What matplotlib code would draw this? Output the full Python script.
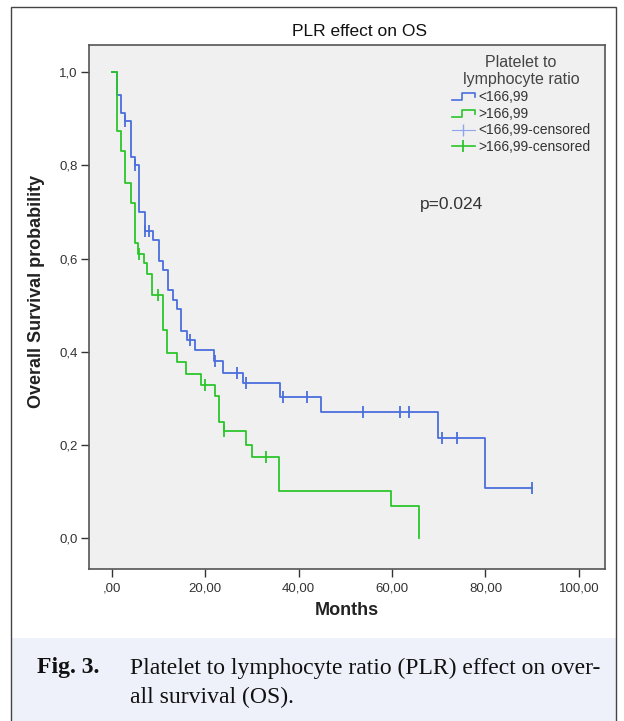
import matplotlib
matplotlib.use('Agg')
import matplotlib.pyplot as plt
from matplotlib.lines import Line2D
from matplotlib.patches import Rectangle
from matplotlib.legend_handler import HandlerBase

# Kaplan-Meier steps (months, survival after the step)
low_t = [0, 1.0, 1.9, 2.8, 4.0, 4.9, 5.9, 7.0, 8.9, 10.0, 11.0, 12.0, 13.0, 14.0,
         14.9, 16.0, 17.8, 21.8, 23.9, 28.0, 36.0, 44.8, 69.8, 80.0, 90.0]
low_s = [1.0, 0.950, 0.913, 0.896, 0.817, 0.800, 0.700, 0.658, 0.639, 0.595, 0.576,
         0.533, 0.510, 0.492, 0.444, 0.426, 0.403, 0.380, 0.355, 0.333, 0.304,
         0.270, 0.214, 0.107, 0.107]
low_cens_t = [2.9, 5.0, 7.1, 8.0, 16.8, 22.0, 26.8, 28.8, 36.7, 41.8, 53.8, 61.7,
              63.7, 70.7, 73.8, 90.0]
low_cens_s = [0.896, 0.800, 0.658, 0.658, 0.426, 0.380, 0.355, 0.333, 0.304, 0.304,
              0.270, 0.270, 0.270, 0.214, 0.214, 0.107]

high_t = [0, 1.0, 2.0, 2.9, 4.0, 4.9, 5.7, 6.8, 7.6, 8.6, 10.9, 11.9, 14.0, 15.9,
          19.0, 22.1, 23.0, 24.0, 28.8, 30.0, 35.8, 59.8, 65.8]
high_s = [1.0, 0.873, 0.830, 0.763, 0.719, 0.634, 0.609, 0.590, 0.566, 0.522, 0.447,
          0.398, 0.379, 0.353, 0.329, 0.305, 0.250, 0.229, 0.200, 0.175, 0.102,
          0.069, 0.0]
high_cens_t = [5.9, 9.9, 19.9, 24.0, 32.9]
high_cens_s = [0.609, 0.522, 0.329, 0.229, 0.175]

x_ticks = [0, 20, 40, 60, 80, 100]
x_labels = [',00', '20,00', '40,00', '60,00', '80,00', '100,00']
y_ticks = [0, 0.2, 0.4, 0.6, 0.8, 1.0]
y_labels = ['0,0', '0,2', '0,4', '0,6', '0,8', '1,0']

blue = '#4a6fdc'
green = '#2bc52b'

plt.rcParams['font.family'] = ['Liberation Sans', 'DejaVu Sans']


class StepHandler(HandlerBase):
    def create_artists(self, legend, orig_handle, xdescent, ydescent,
                       width, height, fontsize, trans):
        w, h = width, height
        xs = [-xdescent, 0.45 * w - xdescent, 0.45 * w - xdescent, w - xdescent, w - xdescent]
        ys = [0.1 * h, 0.1 * h, 0.8 * h, 0.8 * h, 0.4 * h]
        ln = Line2D(xs, ys, color=orig_handle.get_color(), lw=1.2, transform=trans)
        return [ln]


fig = plt.figure(figsize=(6.24, 7.21), dpi=100)

# frame round the figure and caption background
fig.patches.append(Rectangle((11 / 624, 0), 605 / 624, 1 - 638 / 721, transform=fig.transFigure,
                             facecolor='#eef1f9', edgecolor='none', zorder=0))
fig.patches.append(Rectangle((11 / 624, -0.01), 605 / 624, 1 - 7 / 721 + 0.01,
                             transform=fig.transFigure, facecolor='none',
                             edgecolor='#444444', lw=1.0, zorder=1))

ax = fig.add_axes([89 / 624, 1 - 569 / 721, 516 / 624, 524 / 721])
ax.set_facecolor('#f0f0f0')

l1, = ax.step(low_t, low_s, where='post', color=blue, lw=1.3)
l2, = ax.step(high_t, high_s, where='post', color=green, lw=1.3)
ax.plot(low_cens_t, low_cens_s, ls='none', marker='|', ms=8, mew=1.3, color=blue)
ax.plot(high_cens_t, high_cens_s, ls='none', marker='|', ms=8, mew=1.3, color=green)

ax.set_xlim(-4.9, 105.6)
ax.set_ylim(-0.066, 1.058)
ax.set_xticks(x_ticks)
ax.set_xticklabels(x_labels)
ax.set_yticks(y_ticks)
ax.set_yticklabels(y_labels)
ax.tick_params(direction='out', length=6, width=1, color='#333333', labelsize=9.5,
               labelcolor='#333333')
ax.tick_params(axis='x', pad=4)
ax.tick_params(axis='y', pad=2)
for s in ax.spines.values():
    s.set_color('#555555')
    s.set_linewidth(1.2)

ax.set_xlabel('Months', fontsize=13, fontweight='bold', color='#222222', labelpad=5)
ax.set_ylabel('Overall Survival probability', fontsize=13, fontweight='bold',
              color='#222222')
ax.yaxis.set_label_coords(-0.085, 0.53)
fig.text(360 / 624, 1 - 32 / 721, 'PLR effect on OS', fontsize=12.5, color='#111111',
         ha='center', va='center')

ax.text(72.8, 0.716, 'p=0.024', fontsize=12.5, color='#333333', ha='center', va='center')

h3 = Line2D([], [], color='#8fa6ee', lw=0.8, marker='|', ms=8, mew=1)
h4 = Line2D([], [], color=green, lw=1.2, marker='|', ms=9, mew=1.3)
leg = ax.legend([l1, l2, h3, h4],
                ['<166,99', '>166,99', '<166,99-censored', '>166,99-censored'],
                handler_map={l1: StepHandler(), l2: StepHandler()},
                title='Platelet to\nlymphocyte ratio', loc='upper right',
                bbox_to_anchor=(0.99, 1.0), frameon=False, fontsize=10,
                title_fontsize=11.5, handlelength=1.7, handletextpad=0.2,
                labelspacing=0.2, labelcolor='#333333', borderpad=0.2)
leg.get_title().set_color('#444444')
leg.get_title().set_multialignment('center')

fig.text(37 / 624, 1 - 668 / 721, 'Fig. 3.', family='Liberation Serif',
         fontweight='bold', fontsize=17, va='center', color='#111111')
fig.text(130 / 624, 1 - 668 / 721, 'Platelet to lymphocyte ratio (PLR) effect on over-',
         family='Liberation Serif', fontsize=17, va='center', color='#111111')
fig.text(130 / 624, 1 - 697 / 721, 'all survival (OS).',
         family='Liberation Serif', fontsize=17, va='center', color='#111111')

fig.savefig('out.png', dpi=100)
